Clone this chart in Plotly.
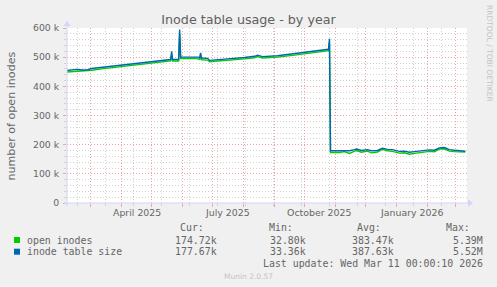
import plotly.graph_objects as go

# ---------------- data (values in thousands) ----------------
size_dates = [
    "2025-02-05", "2025-02-10", "2025-02-15", "2025-02-21", "2025-02-26",
    "2025-03-02", "2025-03-12", "2025-03-25", "2025-04-07", "2025-04-24",
    "2025-05-01", "2025-05-11", "2025-05-18", "2025-05-20", "2025-05-21",
    "2025-05-22", "2025-05-28", "2025-05-29", "2025-05-30", "2025-06-08",
    "2025-06-13", "2025-06-16", "2025-06-18", "2025-06-19", "2025-06-20",
    "2025-06-26", "2025-06-28", "2025-07-03", "2025-07-16", "2025-08-02",
    "2025-08-12", "2025-08-15", "2025-08-20", "2025-09-04", "2025-09-21",
    "2025-10-08", "2025-10-25", "2025-10-26", "2025-10-27", "2025-10-28",
    "2025-11-05", "2025-11-10", "2025-11-15", "2025-11-20", "2025-11-22",
    "2025-11-27", "2025-12-03", "2025-12-07", "2025-12-13", "2025-12-18",
    "2025-12-23", "2025-12-28", "2026-01-04", "2026-01-09", "2026-01-14",
    "2026-01-19", "2026-01-27", "2026-02-03", "2026-02-08", "2026-02-13",
    "2026-02-18", "2026-02-23", "2026-02-28", "2026-03-05", "2026-03-11",
]
size_k = [
    454, 455, 458, 456, 457,
    461, 465, 470, 476, 481,
    485, 489, 491, 492, 520,
    492, 492, 595, 500, 501,
    502, 500, 498, 515, 497,
    496, 489, 491, 494, 499,
    503, 507, 502, 505, 512,
    519, 527, 563, 179, 179,
    179, 181, 179, 183, 185,
    180, 183, 179, 180, 188,
    184, 183, 177, 178, 174,
    176, 179, 182, 181, 189,
    190, 183, 181, 180, 177.67,
]

open_dates = list(size_dates)
open_k = [
    449, 450, 452, 451, 452,
    455, 460, 465, 471, 476,
    480, 483, 486, 487, 505,
    487, 487, 580, 495, 496,
    496, 494, 492, 500, 491,
    490, 484, 486, 489, 494,
    498, 502, 497, 500, 507,
    514, 522, 550, 173, 173,
    173, 176, 170, 178, 180,
    174, 178, 172, 175, 184,
    179, 177, 171, 172, 167,
    170, 174, 177, 176, 185,
    186, 178, 176, 175, 174.72,
]

month_starts = [
    "2025-03-01", "2025-04-01", "2025-05-01", "2025-06-01", "2025-07-01",
    "2025-08-01", "2025-09-01", "2025-10-01", "2025-11-01", "2025-12-01",
    "2026-01-01", "2026-02-01", "2026-03-01",
]
minor_dates = [
    "2025-02-16", "2025-03-16", "2025-04-13", "2025-05-11", "2025-06-08",
    "2025-07-06", "2025-08-03", "2025-08-31", "2025-09-28", "2025-10-26",
    "2025-11-23", "2025-12-21", "2026-01-18", "2026-02-15",
]
x_label_dates = ["2025-04-16", "2025-07-16", "2025-10-16", "2026-01-16"]
x_labels = ["April 2025", "July 2025", "October 2025", "January 2026"]

y_ticks = [0, 100, 200, 300, 400, 500, 600]
y_labels = ["0", "100 k", "200 k", "300 k", "400 k", "500 k", "600 k"]
y_minor = [20, 40, 60, 80, 120, 140, 160, 180, 220, 240, 260, 280,
           320, 340, 360, 380, 420, 440, 460, 480, 520, 540, 560, 580]

series_names = ["open inodes", "inode table size"]
series_colors = ["#00CC00", "#0066B3"]
stat_headers = ["Cur:", "Min:", "Avg:", "Max:"]
stats_open = ["174.72k", "32.80k", "383.47k", "5.39M"]
stats_size = ["177.67k", "33.36k", "387.63k", "5.52M"]
last_update = "Last update: Wed Mar 11 00:00:10 2026"

# ---------------- layout helpers ----------------
W, H = 497, 287
L, R, T, B = 67, 30, 28, 84
PW, PH = W - L - R, H - T - B


def px(x):
    return (x - L) / PW


def py(y):
    return (T + PH - y) / PH


FONT = "DejaVu Sans"
MONO = "DejaVu Sans Mono"
TXT = "#666666"
AXIS = "#CFD6F8"
MGRID = "#ECA4A4"
GRID = "#D2D2D2"

fig = go.Figure()
fig.add_trace(go.Scatter(x=open_dates, y=open_k, mode="lines",
                         line=dict(color=series_colors[0], width=1.4),
                         name=series_names[0], hoverinfo="skip"))
fig.add_trace(go.Scatter(x=size_dates, y=size_k, mode="lines",
                         line=dict(color=series_colors[1], width=1.4),
                         name=series_names[1], hoverinfo="skip"))

annotations = []


def txt(x, y, s, size=9.9, family=MONO, color=TXT, xanchor="left", angle=0,
        xref="paper"):
    annotations.append(dict(
        x=x, y=y, xref=xref, yref="paper", text=s, showarrow=False,
        xanchor=xanchor, yanchor="middle", textangle=angle,
        borderpad=0, borderwidth=0,
        font=dict(family=family, size=size, color=color)))


# x tick labels
for d, lab in zip(x_label_dates, x_labels):
    txt(d, py(212.7), lab, size=9.4, family=FONT, xanchor="center", xref="x")

# y axis title
txt(px(11), py(115.5), "number of open inodes", size=11.1, family=FONT,
    xanchor="center", angle=-90)

# right side credit
txt(px(489.5), py(53.5), "RRDTOOL / TOBI OETIKER", size=7.5, family=FONT,
    color="#C4C4C4", xanchor="center", angle=90)

# legend table
head_x = [204, 293.3, 381, 470]
val_x = [216.7, 305.7, 394, 482.7]
for hx, h in zip(head_x, stat_headers):
    txt(px(hx), py(227.3), h, xanchor="right")
rows_y = [240, 251.7]
for ry, name, stats in zip(rows_y, series_names, [stats_open, stats_size]):
    txt(px(26.7), py(ry), name)
    for vx, v in zip(val_x, stats):
        txt(px(vx), py(ry), v, xanchor="right")
txt(px(482.7), py(263.3), last_update, xanchor="right")
txt(px(248.5), py(276), "Munin 2.0.57", size=7.5, family=FONT,
    color="#C4C4C4", xanchor="center")

shapes = []
for ry, col in zip(rows_y, series_colors):
    shapes.append(dict(type="rect", xref="paper", yref="paper",
                       x0=px(14), x1=px(20), y0=py(ry - 3), y1=py(ry + 3),
                       fillcolor=col, line=dict(width=0)))

# axis lines with arrows
shapes.append(dict(type="line", xref="paper", yref="paper",
                   x0=px(64), x1=px(469), y0=py(203), y1=py(203),
                   line=dict(color=AXIS, width=1)))
shapes.append(dict(type="line", xref="paper", yref="paper",
                   x0=px(67), x1=px(67), y0=py(206), y1=py(24),
                   line=dict(color=AXIS, width=1)))
shapes.append(dict(type="path", xref="paper", yref="paper",
                   path="M {} {} L {} {} L {} {} Z".format(
                       px(468), py(199.5), px(473), py(203), px(468), py(206.5)),
                   fillcolor=AXIS, line=dict(width=0)))
shapes.append(dict(type="path", xref="paper", yref="paper",
                   path="M {} {} L {} {} L {} {} Z".format(
                       px(63.5), py(26), px(67), py(21), px(70.5), py(26)),
                   fillcolor=AXIS, line=dict(width=0)))

fig.update_layout(
    width=W, height=H,
    margin=dict(l=L, r=R, t=T, b=B, pad=0),
    paper_bgcolor="#F0F0F0", plot_bgcolor="#FFFFFF",
    showlegend=False,
    title=dict(text="Inode table usage - by year", x=0.5, xref="container",
               xanchor="center", y=1 - 19.3 / H, yanchor="middle",
               font=dict(family=FONT, size=12.7, color="#606060")),
    annotations=annotations,
    shapes=shapes,
    xaxis=dict(
        type="date", range=["2025-02-05 06:00", "2026-03-12 16:00"],
        tickmode="array", tickvals=month_starts,
        ticktext=[""] * len(month_starts),
        showgrid=True, gridcolor=MGRID, griddash="1px,2px", gridwidth=1,
        ticks="outside", ticklen=3, tickcolor=MGRID,
        showline=False, zeroline=False,
        minor=dict(tickmode="array", tickvals=minor_dates, showgrid=True,
                   gridcolor=GRID, griddash="1px,2px", gridwidth=1,
                   ticks="outside", ticklen=2, tickcolor=GRID),
        fixedrange=True,
    ),
    yaxis=dict(
        range=[0, 600],
        tickmode="array", tickvals=y_ticks, ticktext=y_labels,
        tickfont=dict(family=FONT, size=9.3, color=TXT),
        showgrid=True, gridcolor=MGRID, griddash="1px,2px", gridwidth=1,
        ticks="outside", ticklen=3, tickcolor=MGRID,
        ticklabelstandoff=2,
        showline=False, zeroline=False,
        minor=dict(tickmode="array", tickvals=y_minor, showgrid=True,
                   gridcolor=GRID, griddash="1px,2px", gridwidth=1,
                   ticks="outside", ticklen=2, tickcolor=GRID),
        fixedrange=True,
    ),
)

fig.write_html("out.html")
